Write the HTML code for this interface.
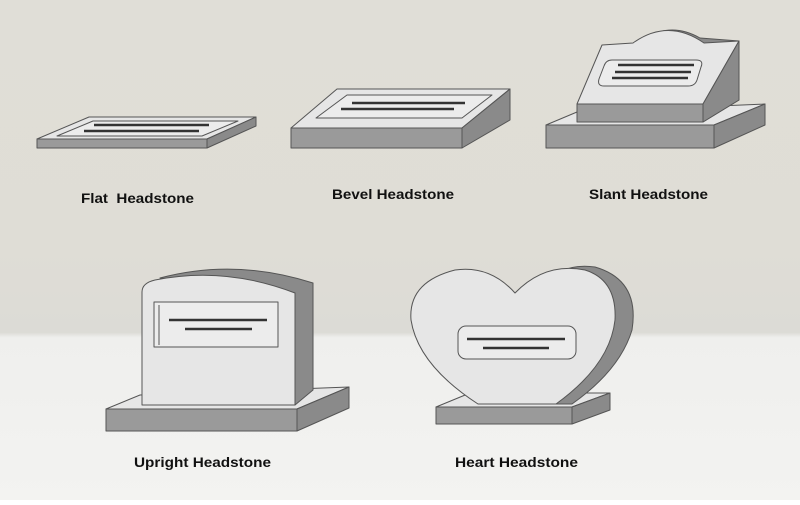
<!DOCTYPE html>
<html><head><style>body{margin:0;width:800px;height:500px;overflow:hidden}</style></head><body>
<svg width="800" height="500" viewBox="0 0 800 500" xmlns="http://www.w3.org/2000/svg" font-family="Liberation Sans, sans-serif">
<defs>
<linearGradient id="bg" x1="0" y1="0" x2="0" y2="1">
<stop offset="0" stop-color="#e0ded7"/><stop offset="0.5" stop-color="#dfddd6"/><stop offset="0.665" stop-color="#dcdbd6"/><stop offset="0.675" stop-color="#efefed"/><stop offset="1" stop-color="#f3f3f1"/>
</linearGradient>
</defs>
<rect width="800" height="500" fill="url(#bg)"/>
<g stroke="#555" stroke-width="1" stroke-linejoin="round">
<polygon points="37,139 89,117 256,117 207,139" fill="#e6e6e6"/>
<polygon points="37,139 207,139 207,148 37,148" fill="#9a9a9a"/>
<polygon points="207,139 256,117 256,126 207,148" fill="#8a8a8a"/>
<polygon points="57,136 93,121 238,121 202,136" fill="#ececec"/>
</g>
<g stroke="#333" stroke-width="2.5">
<line x1="94" y1="125" x2="209" y2="125"/><line x1="84" y1="131" x2="199" y2="131"/>
</g>
<g stroke="#555" stroke-width="1" stroke-linejoin="round">
<polygon points="291,128 337,89 510,89 462,128" fill="#e6e6e6"/>
<polygon points="291,128 462,128 462,148 291,148" fill="#9a9a9a"/>
<polygon points="462,128 510,89 510,120 462,148" fill="#8a8a8a"/>
<polygon points="316,118 347,95 492,95 462,118" fill="#ececec"/>
</g>
<g stroke="#333" stroke-width="2.5">
<line x1="352" y1="103" x2="465" y2="103"/><line x1="341" y1="109" x2="454" y2="109"/>
</g>
<g stroke="#555" stroke-width="1" stroke-linejoin="round">
<polygon points="546,125 577,112 765,104 714,125" fill="#e6e6e6"/>
<polygon points="546,125 714,125 714,148 546,148" fill="#9a9a9a"/>
<polygon points="714,125 765,104 765,125 714,148" fill="#8a8a8a"/>
<path d="M645,38 Q672,22 700,38 L739,41 L739,100 L703,122 L703,104 Z" fill="#8a8a8a"/>
<path d="M577,104 L602,45 L633,43 Q668,18 704,43 L739,41 L703,104 Z" fill="#e6e6e6"/>
<rect x="577" y="104" width="126" height="18" fill="#9a9a9a"/>
<polygon points="703,104 739,41 739,100 703,122" fill="#8a8a8a"/>
<path d="M612,60 L696,60 Q704,60 701,67 L697,80 Q695,86 688,86 L604,86 Q597,86 599,79 L604,66 Q606,60 612,60 Z" fill="#ececec"/>
</g>
<g stroke="#333" stroke-width="2.5">
<line x1="618" y1="65" x2="694" y2="65"/><line x1="615" y1="72" x2="691" y2="72"/><line x1="612" y1="78" x2="688" y2="78"/>
</g>
<g stroke="#555" stroke-width="1" stroke-linejoin="round">
<polygon points="106,409 140,395 349,387 297,409" fill="#e6e6e6"/>
<polygon points="106,409 297,409 297,431 106,431" fill="#9a9a9a"/>
<polygon points="297,409 349,387 349,408 297,431" fill="#8a8a8a"/>
<path d="M160,278 Q235,258 313,283 L313,390 L295,405 L295,293 Z" fill="#8a8a8a"/>
<path d="M142,292 Q142,283 155,280 Q225,266 295,293 L295,405 L142,405 Z" fill="#e6e6e6"/>
<rect x="154" y="302" width="124" height="45" fill="#ececec"/>
<line x1="159" y1="305" x2="159" y2="345"/>
</g>
<g stroke="#333" stroke-width="2.5">
<line x1="169" y1="320" x2="267" y2="320"/><line x1="185" y1="329" x2="252" y2="329"/>
</g>
<g stroke="#555" stroke-width="1" stroke-linejoin="round">
<polygon points="436,407 470,393 610,393 572,407" fill="#e6e6e6"/>
<polygon points="436,407 572,407 572,424 436,424" fill="#9a9a9a"/>
<polygon points="572,407 610,393 610,410 572,424" fill="#8a8a8a"/>
<path d="M535,290 Q560,262 595,267 Q640,280 632,330 Q620,370 572,404 L556,404 Z" fill="#8a8a8a"/>
<path d="M515,293 Q490,265 455,270 Q408,282 411,320 Q418,365 478,404 L556,404 Q610,365 615,320 Q617,280 585,270 Q545,262 515,293 Z" fill="#e6e6e6"/>
<rect x="458" y="326" width="118" height="33" rx="8" fill="#ececec"/>
</g>
<g stroke="#333" stroke-width="2.5">
<line x1="467" y1="339" x2="565" y2="339"/><line x1="483" y1="348" x2="549" y2="348"/>
</g>
<g font-size="14" font-weight="bold" fill="#111">
<text x="81" y="203" textLength="113" lengthAdjust="spacingAndGlyphs" xml:space="preserve">Flat  Headstone</text>
<text x="332" y="199" textLength="122" lengthAdjust="spacingAndGlyphs">Bevel Headstone</text>
<text x="589" y="199" textLength="119" lengthAdjust="spacingAndGlyphs">Slant Headstone</text>
<text x="134" y="467" textLength="137" lengthAdjust="spacingAndGlyphs">Upright Headstone</text>
<text x="455" y="467" textLength="123" lengthAdjust="spacingAndGlyphs">Heart Headstone</text>
</g>
</svg>
</body></html>
